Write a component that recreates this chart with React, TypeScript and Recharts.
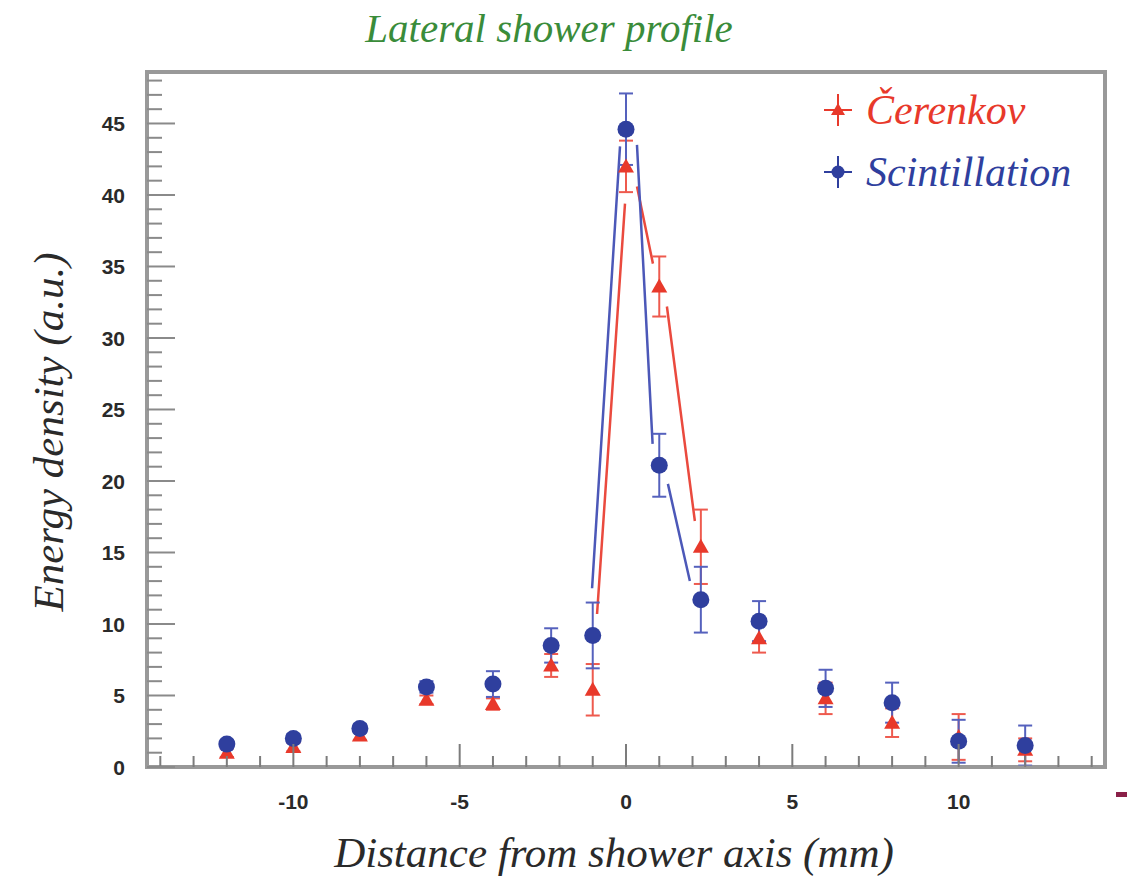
import React from "react";
import { ComposedChart, XAxis, YAxis, Scatter, Line, ErrorBar, ReferenceArea } from "recharts";

// lateral positions of the fibres (mm)
const distance = [-12, -10, -8, -6, -4, -2.25, -1, 0, 1, 2.25, 4, 6, 8, 10, 12];

// Čerenkov signal and its errors
const cerenkov = [1.0, 1.4, 2.2, 4.7, 4.4, 7.1, 5.4, 42.0, 33.6, 15.4, 9.0, 4.8, 3.1, 2.1, 1.2];
const cerenkovErr = [0.3, 0.3, 0.3, 0.3, 0.4, 0.8, 1.8, 1.8, 2.1, 2.6, 1.0, 1.1, 1.0, 1.6, 0.8];

// scintillation signal and its errors
const scint = [1.6, 2.0, 2.7, 5.6, 5.8, 8.5, 9.2, 44.6, 21.1, 11.7, 10.2, 5.5, 4.5, 1.8, 1.5];
const scintErr = [0.3, 0.3, 0.3, 0.4, 0.9, 1.2, 2.3, 2.5, 2.2, 2.3, 1.4, 1.3, 1.4, 1.5, 1.4];

// curves drawn through the core region (null breaks the line)
const cerenkovCurveX = [-0.87, -0.03, 0.1, 0.33, 0.81, 1.0, 1.23, 2.07];
const cerenkovCurveY = [10.7, 39.4, null, 40.6, 35.2, null, 32.2, 17.2];
const scintCurveX = [-1.02, -0.18, 0.0, 0.33, 0.8, 1.0, 1.26, 1.92];
const scintCurveY = [12.5, 43.4, null, 43.5, 22.6, null, 19.8, 13.0];

const xTicks = Array.from({ length: 29 }, (_, i) => i - 14);
const yTicks = Array.from({ length: 49 }, (_, i) => i);

const RED = "#e8392b";
const BLUE = "#2f3f9e";

const cerenkovData = distance.map((x, i) => ({ x, y: cerenkov[i], err: cerenkovErr[i] }));
const scintData = distance.map((x, i) => ({ x, y: scint[i], err: scintErr[i] }));
const cerenkovCurve = cerenkovCurveX.map((x, i) => ({ x, y: cerenkovCurveY[i] }));
const scintCurve = scintCurveX.map((x, i) => ({ x, y: scintCurveY[i] }));

const tickFont = {
  fontFamily: "'Liberation Sans', Arial, sans-serif",
  fontSize: 21,
  fontWeight: 700,
  fill: "#2a2a2a",
};

const XTick = ({ x, y, payload }: any) => {
  const v = payload.value;
  const major = v % 5 === 0;
  return (
    <g>
      <line x1={x} x2={x} y1={y} y2={y - (major ? 23 : 11)} stroke="#7c7c7c" strokeWidth={2} />
      {major && (
        <text x={x} y={y + 42} textAnchor="middle" {...tickFont}>
          {v}
        </text>
      )}
    </g>
  );
};

const YTick = ({ x, y, payload }: any) => {
  const v = payload.value;
  const major = v % 5 === 0;
  return (
    <g>
      <line x1={x} x2={x + (major ? 28 : 15)} y1={y} y2={y} stroke="#8a8a8a" strokeWidth={2} />
      {major && (
        <text x={x - 22} y={y} dy="0.36em" textAnchor="end" {...tickFont}>
          {v}
        </text>
      )}
    </g>
  );
};

const Triangle = ({ cx, cy }: any) => (
  <polygon points={`${cx},${cy - 8} ${cx - 8},${cy + 6} ${cx + 8},${cy + 6}`} fill={RED} />
);

const Dot = ({ cx, cy }: any) => <circle cx={cx} cy={cy} r={8.5} fill={BLUE} />;

const serif = "'Liberation Serif', 'Times New Roman', serif";

const LegendRow = ({ color, label, marker }: { color: string; label: string; marker: "tri" | "dot" }) => (
  <div style={{ display: "flex", alignItems: "center", height: 62 }}>
    <svg width={36} height={40} style={{ marginRight: 10 }}>
      <line x1={4} x2={32} y1={20} y2={20} stroke={color} strokeWidth={2} />
      <line x1={18} x2={18} y1={4} y2={36} stroke={color} strokeWidth={2} />
      {marker === "tri" ? (
        <polygon points="18,13 11,25 25,25" fill={color} />
      ) : (
        <circle cx={18} cy={20} r={6.5} fill={color} />
      )}
    </svg>
    <span style={{ fontFamily: serif, fontStyle: "italic", fontSize: 42, color }}>{label}</span>
  </div>
);

export default function App() {
  return (
    <div style={{ position: "absolute", left: 0, top: 0, width: 1129, height: 882, background: "#fff" }}>
      <ComposedChart width={1129} height={882} margin={{ top: 72, right: 24, bottom: 0, left: 0 }}>
        <XAxis
          dataKey="x"
          type="number"
          domain={[-14.4, 14.4]}
          ticks={xTicks}
          interval={0}
          allowDataOverflow
          height={115}
          tickSize={0}
          tickMargin={0}
          tickLine={false}
          axisLine={{ stroke: "#999", strokeWidth: 3 }}
          tick={<XTick />}
        />
        <YAxis
          type="number"
          domain={[0, 48.6]}
          ticks={yTicks}
          interval={0}
          allowDataOverflow
          width={147}
          tickSize={0}
          tickMargin={0}
          tickLine={false}
          axisLine={{ stroke: "#999", strokeWidth: 3 }}
          tick={<YTick />}
        />
        <ReferenceArea x1={-14.4} x2={14.4} y1={0} y2={48.6} fill="none" stroke="#999" strokeWidth={4} />
        <Line data={cerenkovCurve} dataKey="y" stroke="#ea4a3e" strokeWidth={2.5} dot={false} isAnimationActive={false} />
        <Line data={scintCurve} dataKey="y" stroke="#4c58b8" strokeWidth={2.5} dot={false} isAnimationActive={false} />
        <Scatter data={cerenkovData} dataKey="y" shape={<Triangle />} isAnimationActive={false}>
          <ErrorBar dataKey="err" direction="y" width={7} stroke="#ee5a4e" strokeWidth={2} />
        </Scatter>
        <Scatter data={scintData} dataKey="y" shape={<Dot />} isAnimationActive={false}>
          <ErrorBar dataKey="err" direction="y" width={7} stroke="#5561bd" strokeWidth={2} />
        </Scatter>
      </ComposedChart>

      <div
        style={{
          position: "absolute",
          left: 0,
          width: 1098,
          top: 4,
          textAlign: "center",
          fontFamily: serif,
          fontStyle: "italic",
          fontSize: 41,
          color: "#3a8c3a",
        }}
      >
        Lateral shower profile
      </div>

      <div style={{ position: "absolute", left: 820, top: 79 }}>
        <LegendRow color={RED} label="Čerenkov" marker="tri" />
        <LegendRow color={BLUE} label="Scintillation" marker="dot" />
      </div>

      <div
        style={{
          position: "absolute",
          left: 0,
          width: 1228,
          top: 828,
          textAlign: "center",
          fontFamily: serif,
          fontStyle: "italic",
          fontSize: 43,
          color: "#2a2a2a",
        }}
      >
        Distance from shower axis (mm)
      </div>

      <div
        style={{
          position: "absolute",
          left: 48,
          top: 432,
          transform: "translate(-50%, -50%) rotate(-90deg)",
          whiteSpace: "nowrap",
          fontFamily: serif,
          fontStyle: "italic",
          fontSize: 43,
          color: "#2a2a2a",
        }}
      >
        Energy density (a.u.)
      </div>

      <div style={{ position: "absolute", left: 1116, top: 792, width: 11, height: 5, background: "#8a2048" }} />
    </div>
  );
}
